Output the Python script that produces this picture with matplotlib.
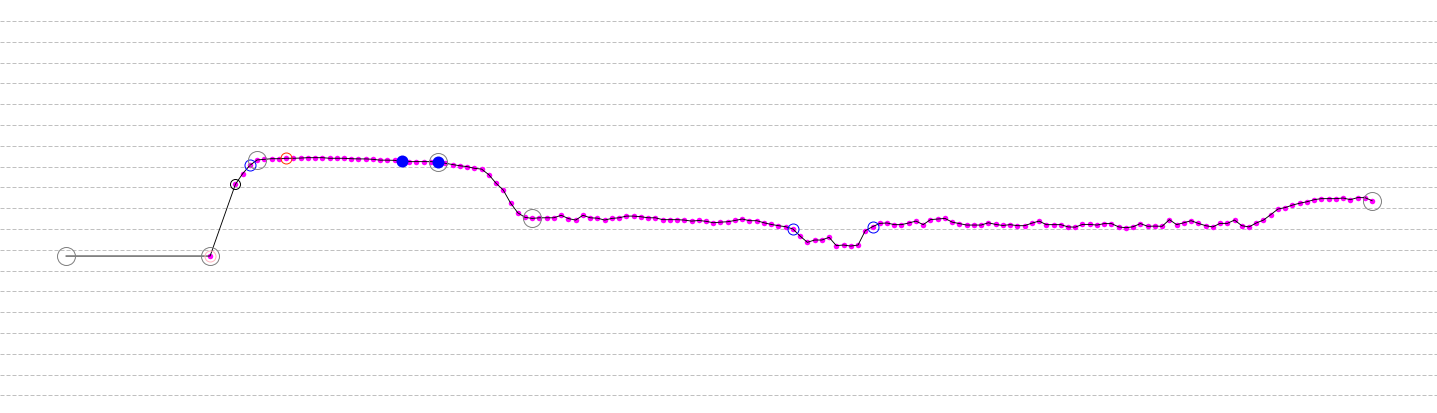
import matplotlib
matplotlib.use("Agg")
import matplotlib.pyplot as plt

# first two readings (irregular spacing), then regularly sampled readings
lead_t = [0.0, 19.9]
lead_v = [6.70, 6.70]
sample_t0 = 23.4
sample_v = [
    10.15, 10.66, 11.06, 11.32, 11.35, 11.38, 11.38, 11.40, 11.40, 11.41,
    11.43, 11.43, 11.43, 11.40, 11.40, 11.40, 11.38, 11.37, 11.37, 11.35,
    11.31, 11.31, 11.30, 11.25, 11.24, 11.24, 11.24, 11.24, 11.22, 11.16,
    11.10, 11.04, 11.00, 10.92, 10.88, 10.61, 10.20, 9.87, 9.25, 8.78,
    8.56, 8.51, 8.54, 8.54, 8.54, 8.66, 8.50, 8.43, 8.66, 8.54,
    8.52, 8.43, 8.51, 8.54, 8.62, 8.62, 8.59, 8.54, 8.54, 8.45,
    8.45, 8.45, 8.43, 8.38, 8.41, 8.37, 8.30, 8.33, 8.35, 8.41,
    8.48, 8.40, 8.40, 8.30, 8.22, 8.16, 8.11, 8.00, 7.66, 7.36,
    7.47, 7.47, 7.60, 7.20, 7.23, 7.18, 7.23, 7.92, 8.11, 8.27,
    8.29, 8.21, 8.21, 8.29, 8.38, 8.21, 8.45, 8.48, 8.51, 8.33,
    8.26, 8.19, 8.19, 8.19, 8.30, 8.22, 8.17, 8.21, 8.16, 8.16,
    8.28, 8.38, 8.21, 8.21, 8.21, 8.10, 8.09, 8.22, 8.22, 8.19,
    8.26, 8.26, 8.10, 8.06, 8.11, 8.26, 8.13, 8.14, 8.13, 8.45,
    8.21, 8.30, 8.40, 8.27, 8.16, 8.10, 8.27, 8.27, 8.43, 8.16,
    8.10, 8.29, 8.43, 8.69, 8.96, 9.03, 9.15, 9.24, 9.31, 9.41,
    9.46, 9.46, 9.46, 9.49, 9.41, 9.51, 9.51, 9.36,
]

# highlighted samples (indices into the regular samples)
gray_idx = [3, 28, 41, 157]
black_idx = [0]
blue_open_idx = [2, 77, 88]
red_idx = [7]
blue_fill_idx = [23, 28]

t = lead_t + [sample_t0 + i for i in range(len(sample_v))]
v = lead_v + sample_v
n0 = len(lead_t)

fig = plt.figure(figsize=(1437 / 72, 413 / 72), dpi=72)
ax = fig.add_axes([0, 0, 1, 1])

# gridlines
ax.set_yticks(range(0, 19))
ax.set_xticks([])
ax.grid(axis="y", color="#c0c0c0", linestyle=(0, (4, 2)), linewidth=1)
ax.set_axisbelow(True)
ax.tick_params(length=0, labelleft=False, labelbottom=False)
for s in ax.spines.values():
    s.set_visible(False)

# sample dots, then the trace drawn over them
ax.plot(t[1:], v[1:], linestyle="none", marker="o", markersize=5.5,
        color="#ff00ff", markeredgewidth=0, zorder=2)
ax.plot(t, v, color="black", linewidth=0.9, zorder=3)

def pick(idx):
    return [t[n0 + i] for i in idx], [v[n0 + i] for i in idx]

# big gray rings
gx = [t[0], t[1]] + pick(gray_idx)[0]
gy = [v[0], v[1]] + pick(gray_idx)[1]
ax.plot(gx, gy, linestyle="none", marker="o", markersize=18,
        markerfacecolor="none", markeredgecolor="#808080",
        markeredgewidth=1, zorder=5)

# pink ring at second reading
ax.plot([t[1]], [v[1]], linestyle="none", marker="o", markersize=11,
        markerfacecolor="none", markeredgecolor="#ffb6c1",
        markeredgewidth=1, zorder=4)

bx, by = pick(black_idx)
ax.plot(bx, by, linestyle="none", marker="o", markersize=10,
        markerfacecolor="none", markeredgecolor="black",
        markeredgewidth=1, zorder=4)

ox, oy = pick(blue_open_idx)
ax.plot(ox, oy, linestyle="none", marker="o", markersize=11,
        markerfacecolor="none", markeredgecolor="blue",
        markeredgewidth=1, zorder=4)

rx, ry = pick(red_idx)
ax.plot(rx, ry, linestyle="none", marker="o", markersize=11,
        markerfacecolor="none", markeredgecolor="#ff3300",
        markeredgewidth=1, zorder=4)

fx, fy = pick(blue_fill_idx)
ax.plot(fx, fy, linestyle="none", marker="o", markersize=12,
        color="blue", markeredgewidth=0, zorder=4)

x_min = -66 / 7.24
ax.set_xlim(x_min, x_min + 1437 / 7.24)
ax.set_ylim(-0.846, 19.0096)

fig.savefig("out.png", dpi=72, facecolor="white")
